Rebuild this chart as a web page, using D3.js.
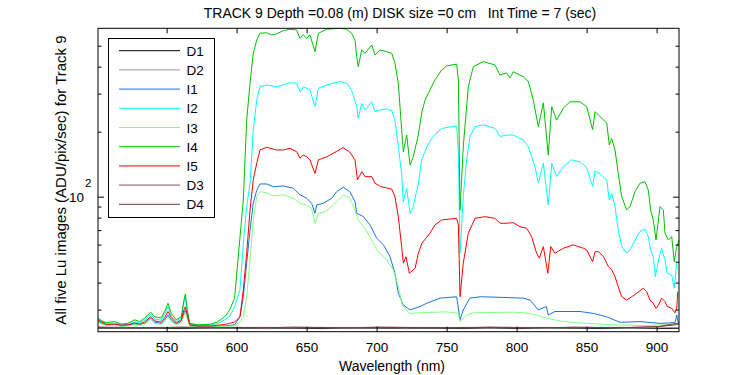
<!DOCTYPE html>
<html>
<head>
<meta charset="utf-8">
<script src="https://d3js.org/d3.v7.min.js"></script>
<style>
  html, body { margin: 0; padding: 0; background: #fff; }
  svg { display: block; font-family: "Liberation Sans", Arial, sans-serif; }
</style>
</head>
<body>
<svg id="chart" width="750" height="375"></svg>
<script>
// ---------------- data (wavelength nm, ADU/pix/sec) ----------------
const seriesNames = ["D1", "D2", "I1", "I2", "I3", "I4", "I5", "D3", "D4"];
const xTickValues = [550, 600, 650, 700, 750, 800, 850, 900];
const yTickValues = [30, 40, 50, 60, 70, 80, 90, 100, 200, 300, 400, 500];

const darkWl = [501,521,541,561,581,601,621,641,661,681,701,721,741,761,781,801,821,841,861,881,901,916];
const dark1 = [24.6,24.5,24.6,24.5,24.6,24.6,24.5,24.6,24.5,24.6,24.6,24.5,24.6,24.5,24.6,24.5,24.6,24.6,24.5,24.6,24.5,24.6];
const dark2 = [24.7,24.6,24.7,24.7,24.6,24.7,24.6,24.7,24.7,24.6,24.7,24.6,24.7,24.7,24.6,24.7,24.6,24.7,24.7,24.6,24.7,24.8];
const dark3 = [24.9,24.8,24.7,24.9,24.8,24.8,24.7,24.9,24.8,24.7,24.9,24.8,24.8,24.7,24.9,24.8,24.7,24.9,24.8,24.8,25.0,25.6];
const dark4 = [24.8,24.7,24.8,24.8,24.7,24.8,24.8,24.7,24.8,24.7,24.8,24.8,24.7,24.8,24.8,24.7,24.8,24.7,24.8,24.8,25.0,26.0];

const i1 = [[501,26.6],[503.4,26],[506.9,25.5],[512.9,25.6],[517.6,25.2],[522.4,25.4],[527.2,25.7],[530.8,25.5],[534.4,25.9],[538.6,27.4],[541.5,26.2],[546.2,25.9],[548.6,26.9],[551,28.3],[553.4,26.8],[556.9,25.8],[560.5,26.5],[562.4,28.9],[563.4,29.9],[564.8,27.7],[566.5,25.4],[572.4,25.1],[581.9,25.1],[591.5,25.2],[598.6,25.5],[601,26.9],[602.4,27.8],[604.8,34.4],[607.2,49.2],[609.6,70.1],[611.9,93.2],[614.4,107],[616.7,114.5],[621.5,114.5],[626.3,111.3],[633.4,112.1],[640.5,109.4],[645.3,102],[650.1,98.3],[653.6,93.2],[656,83.8],[657.2,91.5],[661.9,93.2],[667.9,98.3],[671.5,105.5],[676.2,110.5],[680.9,105.5],[684.6,94.8],[685.8,83.8],[690.6,80.8],[695.3,74],[700.1,64.2],[704.9,59.8],[709.6,52.7],[713.1,44.2],[715.5,35.7],[719.1,31.5],[723.9,29.9],[731,31],[735.8,32.1],[745.3,33.9],[757.2,34.4],[759.6,26.9],[761.9,29.9],[766.7,33.9],[774.1,34.4],[788.1,34.2],[804.8,33.9],[809.6,33.2],[815.5,29.9],[821.3,31],[822.6,28.3],[827.4,29.4],[845.3,29.4],[854.8,28.8],[864.1,27.8],[873.9,26.2],[888.1,26.4],[902.4,25.9],[913.1,26.1],[914.4,28.3],[915.5,26]];

const i2 = [[501,27.1],[503.4,26.5],[506.9,25.9],[512.9,26],[517.6,25.5],[522.4,25.6],[527.2,26.3],[530.8,26],[534.4,26.8],[538.6,28.6],[541.5,27.1],[546.2,26.8],[548.6,28.5],[551,31],[553.4,27.9],[556.9,26.5],[560.5,27.5],[562.4,32.5],[563.4,34.3],[564.8,29.3],[566.5,25.8],[572.4,25.4],[581.9,25.5],[586.7,25.9],[591.5,26.9],[595.1,27.9],[598.6,31],[601,34.7],[602.4,37],[604.8,60.9],[607.2,90],[609.6,115],[611.9,204],[614.4,280],[616.7,323],[621.5,329],[628.6,323],[633.4,329],[638.1,337],[642.9,335],[645.3,306],[647.6,322],[650.1,318],[652.4,312],[656,261],[658.4,318],[664.4,329],[673.9,341],[678.6,335],[682.1,312],[685.8,261],[686.9,230.7],[689.4,270.5],[691.7,252],[696.5,275],[698.9,247.5],[702.4,252],[707.2,255],[710.8,250],[713.1,226],[715.5,170],[717.9,128],[719.1,94.8],[721.5,109.4],[723.9,83.8],[726.2,89.9],[729.8,115.4],[732.2,148],[735.8,170],[740.4,190],[746.5,207],[757.2,212.5],[758.4,159],[759.6,54.7],[761.9,100],[764.3,148],[766.7,190],[770.3,211],[776.2,215],[784.6,207],[788.1,190],[792.9,193],[797.6,193],[804.8,183],[808.4,170],[813.1,137.7],[815.5,115.4],[819.1,142.8],[822.6,91.5],[825.1,142.8],[828.6,123.8],[833.4,137.7],[839.3,148],[845.3,144.8],[850.1,136.5],[854.3,111.3],[856,131.5],[859.6,127.4],[864.4,119.5],[866.2,96.5],[867.9,103.7],[870.3,89.9],[872.6,70.1],[875.1,58.7],[878.6,54.7],[881,56.7],[884.6,63],[888.1,69],[891.7,70.7],[894.1,65.3],[895.7,56.7],[897.6,52.7],[899.1,42.6],[901.4,50.9],[903.6,57.7],[906,50.9],[907.6,44.2],[910.8,43.4],[912.6,37.7],[914.4,49.2],[916,50]];

const i3 = [[501,26.3],[503.4,25.7],[506.9,25.4],[512.9,25.5],[517.6,25.1],[522.4,25.2],[527.2,25.6],[530.8,25.4],[534.4,25.7],[538.6,27],[541.5,25.9],[546.2,25.6],[548.6,26.5],[551,27.7],[553.4,26.3],[556.9,25.5],[560.5,26],[562.4,28.2],[563.4,28.9],[564.8,27.1],[566.5,25.2],[572.4,24.9],[581.9,24.9],[591.5,25.1],[598.6,25.2],[602.4,26.3],[604.8,27.8],[607.2,34.4],[609.6,50.9],[611.9,78],[614.4,100],[616.7,105.5],[621.5,104.4],[626.3,100.7],[633.4,102],[640.5,98.3],[645.3,93.2],[650.1,91.5],[653.6,88.4],[656,75.3],[658.4,83.8],[663.2,85.2],[669.1,91.5],[676.2,102],[680.9,98.3],[684.6,86.8],[686.9,78],[691.7,71.4],[696.5,63],[700.1,56.7],[707.2,50.9],[711.9,45.8],[715.5,38.3],[718.3,31.5],[723.4,28.8],[731,29],[750,29.3],[758.4,28.8],[759.6,26.4],[764.3,28.3],[769.1,29],[797.6,29.2],[809.6,28.8],[821.3,27.4],[833.4,26.4],[850.1,25.9],[869.2,25.5],[893,25.3],[914.4,25.7]];

const i4 = [[501,27.4],[503.4,26.7],[506.9,26.1],[512.9,26.4],[517.6,25.7],[522.4,25.9],[527.2,26.9],[530.8,26.4],[534.4,27.4],[538.6,29.2],[541.5,27.8],[546.2,27.4],[548.6,29.4],[551,32.1],[553.4,28.8],[556.9,26.9],[560.5,27.8],[562.4,33.2],[563.4,35.4],[564.8,29.9],[566.5,25.9],[572.4,25.5],[581.9,25.7],[586.7,26.4],[591.5,27.8],[595.1,29.9],[598.6,34],[601.4,54.7],[604.8,96.5],[607.2,226],[609.6,335],[611.9,461],[614.4,531],[616.7,571],[621.5,574],[625.1,561],[628.6,567],[633.4,587],[638.1,596],[642.9,591],[645.3,541],[647.6,561],[650.1,541],[652.4,561],[656,469],[658.4,571],[664.4,596],[673.9,602],[678.6,596],[682.1,571],[684.6,531],[685.8,445],[686.9,400],[689.4,478],[691.7,461],[696.5,504],[698.9,453],[702.4,478],[707.2,469],[710.8,461],[713.1,415],[715.5,335],[717.9,204],[719.1,161.6],[721.5,193],[723.9,140],[726.2,153],[729.8,193],[732.2,244],[734.6,280],[738.1,312],[741.7,347],[746.5,386],[750,403],[757.2,411],[758.4,347],[759.6,86.8],[761.9,170],[765.5,323],[769.1,400],[776.2,422],[784.6,407],[788.1,366],[792.9,374],[795.3,354],[797.6,379],[804.8,359],[808.4,341],[811.9,280],[815.5,211],[819.1,272],[822.6,156],[825.1,261],[828.6,226],[833.4,257],[838.1,275],[845.3,275],[850.1,261],[854.3,204],[856,247.5],[859.6,235],[864.4,219],[866.2,173.5],[867.9,186],[870.3,164.5],[872.6,128],[875.1,100],[878.6,86.8],[881,89.9],[884.6,105.5],[888.1,115.4],[891.7,117.3],[894.1,107],[895.7,86.8],[897.6,78],[899.6,63],[902.4,89.9],[904.8,86.8],[906,67.7],[908.4,63],[910.8,65.3],[912.6,50],[914.4,58.7],[916,63]];

const i5 = [[501,26.9],[503.4,26.3],[506.9,25.6],[512.9,25.7],[517.6,25.4],[522.4,25.5],[527.2,26],[530.8,25.7],[534.4,26.3],[538.6,27.8],[541.5,26.6],[546.2,26.2],[548.6,27.5],[551,29.4],[553.4,27.5],[556.9,26],[560.5,26.9],[562.4,29.9],[563.4,30.9],[564.8,28.3],[566.5,25.5],[572.4,25.2],[581.9,25.2],[586.7,25.4],[591.5,25.6],[595.1,25.9],[598.6,26.3],[602.4,27.8],[604.8,37],[607.2,54.7],[609.6,86.8],[611.9,119.5],[614.4,142.8],[616.7,164.5],[621.5,169.3],[628.6,164.5],[633.4,164.5],[638.1,167.5],[642.9,161.6],[645.3,150.6],[647.6,156],[650.1,153],[652.4,148],[656,128],[658.4,148],[664.4,153],[671.1,161.6],[675.9,168.6],[680.6,161.6],[684.6,148],[686.3,119.5],[689.4,130.5],[691.7,123.8],[696.5,123.8],[698.9,115.4],[702.9,111.3],[707.2,109.7],[710.8,108.5],[713.1,100],[715.5,80.8],[717.9,58.7],[719.1,49.2],[721,52.7],[723.4,44.2],[727.5,46.6],[729.8,54.7],[732.4,60.9],[738.1,67.7],[741.7,74],[746.5,78],[757.2,79.4],[758.4,74],[759.6,34.4],[761.9,49.2],[765.5,67.7],[770.3,79.4],[777.4,80.8],[784.6,79.4],[788.1,75.3],[792.9,75.3],[797.6,75.8],[802.4,72.6],[807.2,71.4],[810.7,65.3],[814.3,54.7],[816.2,51.9],[819.1,58.7],[822.3,44.2],[824.4,58.7],[827.4,54.7],[833.4,57.7],[840.5,59.8],[847.7,57.7],[850.1,56.7],[854.3,50],[856,55.6],[858.6,55.6],[862.1,52.7],[865.6,47.4],[868,45.8],[870.3,42.6],[872.6,38.3],[875.1,34.4],[878.6,33.2],[882.2,34.4],[885.8,35.7],[890.5,37.7],[892.9,36.3],[895.3,33.2],[897.6,32.1],[899.6,30.4],[901.4,31.5],[903.6,33.9],[906,32.7],[907.6,31],[910.8,30.4],[913.1,29],[914.4,30.4],[915.1,36.3]];

const seriesColors = ["#000000", "#999999", "#1a73e0", "#00ffff", "#80ff80", "#00c000", "#ff0000", "#805050", "#803838"];

// ---------------- build ----------------
const pairs = (wl, vals) => wl.map((w, k) => [w, vals[k]]);
const seriesData = [pairs(darkWl, dark1), pairs(darkWl, dark2), i1, i2, i3, i4, i5, pairs(darkWl, dark3), pairs(darkWl, dark4)];

const svg = d3.select("#chart");
const L = 98, R = 679, T = 28.3, B = 331.7;

const x = d3.scaleLinear().domain([501, 916]).range([L, R]);
const y = d3.scaleLog().domain([23.7, 602]).range([B, T]);

svg.append("rect").attr("width", 750).attr("height", 375).attr("fill", "#fff");

svg.append("defs").append("clipPath").attr("id", "clip")
  .append("rect").attr("x", L).attr("y", T).attr("width", R - L).attr("height", B - T);

const line = d3.line().x(d => x(d[0])).y(d => y(d[1]));

const g = svg.append("g").attr("clip-path", "url(#clip)");
seriesData.forEach((data, k) => {
  g.append("path").datum(data)
    .attr("fill", "none")
    .attr("stroke", seriesColors[k])
    .attr("stroke-width", 1)
    .attr("d", line);
});

// axes
const tickFont = 13.5;
const xb = svg.append("g").attr("transform", `translate(0,${B})`)
  .call(d3.axisBottom(x).tickValues(xTickValues).tickSize(-5).tickPadding(11).tickFormat(d3.format("d")));
const xt = svg.append("g").attr("transform", `translate(0,${T})`)
  .call(d3.axisTop(x).tickValues(xTickValues).tickSize(-5).tickFormat(""));
const yl = svg.append("g").attr("transform", `translate(${L},0)`)
  .call(d3.axisLeft(y).tickValues(yTickValues).tickSize(-3.5).tickFormat(""));
const yr = svg.append("g").attr("transform", `translate(${R},0)`)
  .call(d3.axisRight(y).tickValues(yTickValues).tickSize(-3.5).tickFormat(""));

[xb, xt, yl, yr].forEach(a => {
  a.select(".domain").remove();
  a.selectAll("line").attr("stroke", "#000");
  a.selectAll("text").attr("fill", "#000").style("font-size", tickFont + "px")
    .style("font-family", '"Liberation Sans", Arial, sans-serif');
});
yl.selectAll(".tick").filter(d => d === 100).select("line").attr("x2", 6);
yr.selectAll(".tick").filter(d => d === 100).select("line").attr("x2", -6);

// 10^2 label
svg.append("text").attr("x", 84).attr("y", y(100) + 5)
  .attr("text-anchor", "end").style("font-size", tickFont + "px").text("10");
svg.append("text").attr("x", 85).attr("y", y(100) - 9.5)
  .style("font-size", "11.5px").text("2");

// frame
svg.append("rect").attr("x", L).attr("y", T).attr("width", R - L).attr("height", B - T)
  .attr("fill", "none").attr("stroke", "#000").attr("stroke-width", 1);

// titles
svg.append("text").attr("x", 400).attr("y", 18).attr("text-anchor", "middle")
  .style("font-size", "14px")
  .text("TRACK 9 Depth =0.08 (m) DISK size =0 cm \u00a0 Int Time = 7 (sec)");
svg.append("text").attr("x", 392).attr("y", 371).attr("text-anchor", "middle")
  .style("font-size", "14px").text("Wavelength (nm)");
svg.append("text").attr("transform", `translate(66,${(T + B) / 2}) rotate(-90)`)
  .attr("text-anchor", "middle").style("font-size", "15px")
  .text("All five Lu images (ADU/pix/sec) for Track 9");

// legend
const lg = svg.append("g");
lg.append("rect").attr("x", 108.5).attr("y", 38.5).attr("width", 106).attr("height", 179)
  .attr("fill", "#fff").attr("stroke", "#000").attr("stroke-width", 1);
seriesNames.forEach((name, k) => {
  const yy = 50.7 + k * 19.2;
  lg.append("line").attr("x1", 119).attr("x2", 180).attr("y1", yy).attr("y2", yy)
    .attr("stroke", seriesColors[k]).attr("stroke-width", 1);
  lg.append("text").attr("x", 186.5).attr("y", yy + 5)
    .style("font-size", "13.5px").text(name);
});
</script>
</body>
</html>
